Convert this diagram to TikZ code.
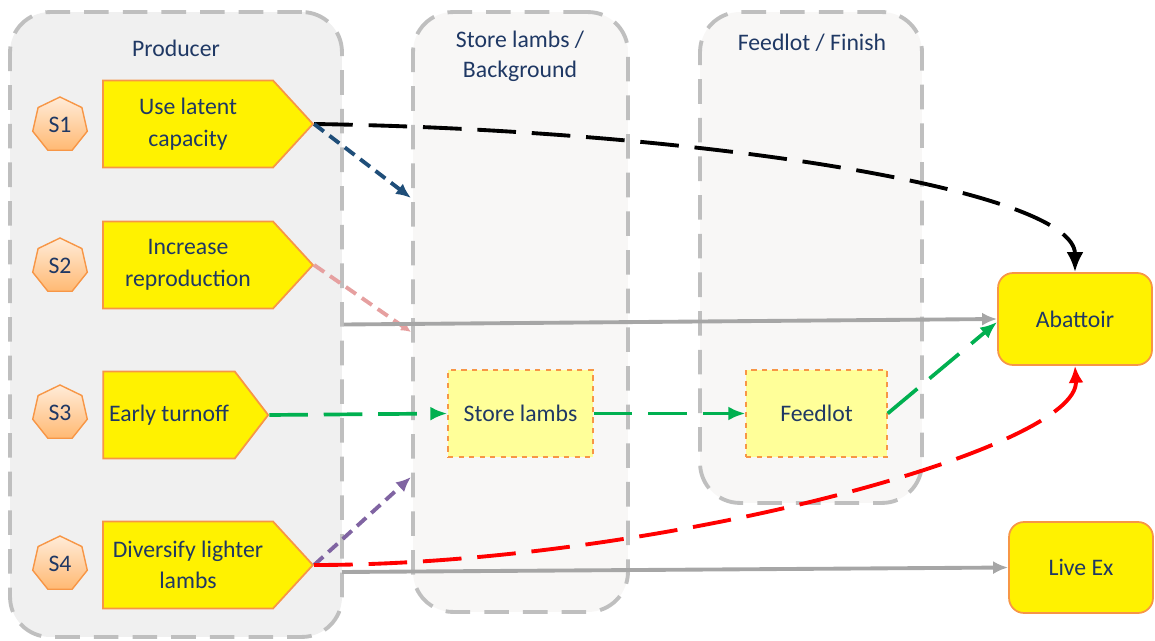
\documentclass[tikz,border=0pt]{standalone}
\usepackage{fontspec}
\setmainfont{Carlito}
\usetikzlibrary{shapes.geometric,shapes.symbols,arrows.meta}
\definecolor{navy}{HTML}{1F3864}
\definecolor{panelgray}{HTML}{BFBFBF}
\definecolor{prodfill}{HTML}{F0F0F0}
\definecolor{stagefill}{HTML}{F8F7F6}
\definecolor{orangeline}{HTML}{F79646}
\definecolor{paleyellow}{HTML}{FFFF99}
\definecolor{flowgreen}{HTML}{00B050}
\definecolor{flowblue}{HTML}{1F4E79}
\definecolor{flowpink}{HTML}{E6A0A0}
\definecolor{flowpurple}{HTML}{8064A2}
\definecolor{flowgray}{HTML}{A6A6A6}
\tikzset{
  panel/.style={draw=panelgray, line width=2.2pt, dash pattern=on 14pt off 8pt,
    rounded corners=0.8cm, fill=#1},
  title/.style={text=navy, align=center, font=\fontsize{13.5}{17}\selectfont},
  stratbox/.style={signal, signal to=east, signal pointer angle=#1, draw=orangeline,
    line width=1pt, fill=yellow, minimum height=1.74cm, text=navy, align=center,
    font=\fontsize{13.5}{18}\selectfont},
  tag/.style={regular polygon, regular polygon sides=7, minimum size=1.12cm, inner sep=0pt,
    draw=orangeline, line width=0.8pt, top color=orange!15, bottom color=orange!55,
    text=navy, font=\fontsize{13.5}{15}\selectfont},
  stagebox/.style={draw=orangeline, dashed, line width=0.8pt, fill=paleyellow, text=navy,
    minimum height=1.74cm, font=\fontsize{13.5}{15}\selectfont},
  market/.style={draw=orangeline, line width=1pt, fill=yellow, rounded corners=0.3cm,
    text=navy, font=\fontsize{13.5}{15}\selectfont},
  bigdash/.style={line width=2.2pt, dash pattern=on 22pt off 9pt},
  smalldash/.style={line width=2.2pt, dash pattern=on 7pt off 4pt},
  greendash/.style={flowgreen, line width=2.1pt, dash pattern=on 22pt off 9pt,
    >={Latex[length=0.34cm,width=0.28cm]}}
}
\begin{document}
\begin{tikzpicture}[x=0.02cm,y=-0.02cm,>={Latex[length=0.3cm,width=0.26cm]}]
  \useasboundingbox (0,0) rectangle (1155,641);

  % draw the panels
  \node[panel=prodfill, minimum width=6.64cm, minimum height=12.5cm] (producer) at (176,324.5) {};
  \node[panel=stagefill, minimum width=4.3cm, minimum height=12cm] (store) at (520.5,312) {};
  \node[panel=stagefill, minimum width=4.44cm, minimum height=9.82cm] (finish) at (811,257.5) {};

  % panel titles
  \node[title] (tprod) at (176,48) {Producer};
  \node[title] (tstore) at (520,56) {Store lambs /\\Background};
  \node[title] (tfinish) at (812,43) {Feedlot / Finish};

  % strategies
  \node[tag] (t1) at (60,125) {S1};
  \node[tag] (t2) at (60,266) {S2};
  \node[tag] (t3) at (60,413) {S3};
  \node[tag] (t4) at (60,564) {S4};
  \node[stratbox=95, minimum width=4.2cm] (s1) at (188,124) {Use latent\\capacity};
  \node[stratbox=95, minimum width=4.2cm] (s2) at (188,265) {Increase\\reproduction};
  \node[stratbox=105, minimum width=3.3cm] (s3) at (169,415) {Early turnoff};
  \node[stratbox=95, minimum width=4.2cm] (s4) at (188,565) {Diversify lighter\\lambs};

  % stages and markets
  \node[stagebox, minimum width=2.9cm] (storebox) at (520.5,413.5) {Store lambs};
  \node[stagebox, minimum width=2.82cm] (feedlot) at (816.5,413.5) {Feedlot};
  \node[market, minimum width=3.08cm, minimum height=1.84cm] (abattoir) at (1075,319) {Abattoir};
  \node[market, minimum width=2.88cm, minimum height=1.82cm] (liveex) at (1081,567.5) {Live Ex};

  % loose ends
  \coordinate (c1) at (411,198);
  \coordinate (c2) at (411,332);
  \coordinate (c4) at (411,477);
  \coordinate (lx) at (342,572);

  % S1
  \draw[->, bigdash, >={Latex[length=0.4cm,width=0.34cm]}] (s1.east)
    .. controls (700,130) and (1075,190) .. (abattoir.north);
  \draw[->, smalldash, flowblue] (s1.east) -- (c1);

  % S2
  \draw[->, smalldash, flowpink, >={Latex[length=0.2cm,width=0.2cm]}] (s2.east) -- (c2);
  \draw[->, flowgray, line width=2.2pt] (producer.east) -- (abattoir.west);

  % S3
  \draw[->, greendash] (s3.east) -- (storebox.west);
  \draw[->, greendash] (storebox.east) -- (feedlot.west);
  \draw[->, greendash] (feedlot.east) -- ([yshift=-0.06cm]abattoir.west);

  % S4
  \draw[->, smalldash, flowpurple] (s4.east) -- (c4);
  \draw[->, bigdash, red, >={Latex[length=0.34cm,width=0.3cm]}] (s4.east)
    .. controls (650,565) and (1080,450) .. (abattoir.south);
  \draw[->, flowgray, line width=2.2pt] (lx) -- (liveex.west);
\end{tikzpicture}
\end{document}
